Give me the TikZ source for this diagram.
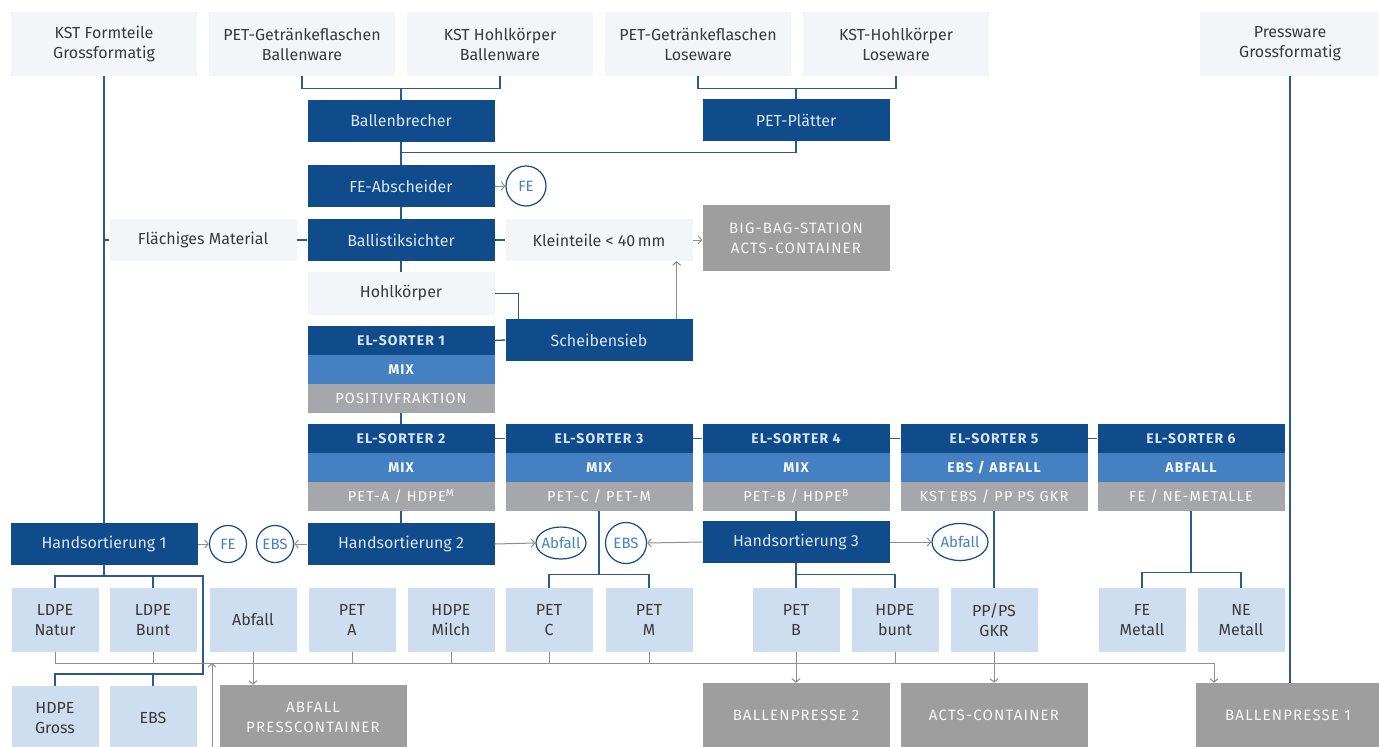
\documentclass[tikz,border=0pt]{standalone}
\usepackage{xcolor}
\usepackage{fontspec}
\usepackage{tikz}
\usetikzlibrary{arrows.meta,shapes.geometric}
\setmainfont{Fira Sans}
\newfontfamily\versal[LetterSpace=8.0]{Fira Sans}

\definecolor{dunkelblau}{HTML}{104C8B}
\definecolor{mittelblau}{HTML}{4581C2}
\definecolor{bandgrau}{HTML}{A6A7AA}
\definecolor{kastengrau}{HTML}{9E9E9E}
\definecolor{hellblau}{HTML}{CFDDF1}
\definecolor{fastweiss}{HTML}{F3F5F9}
\definecolor{schrift}{HTML}{383A3D}
\definecolor{hellschrift}{HTML}{D6E6F6}
\definecolor{pfeilgrau}{HTML}{8E8E8E}
\definecolor{linieblau}{HTML}{2A5A92}

\begin{document}
\begin{tikzpicture}[x=1pt,y=1pt,yscale=-1,xscale=1,
  txt/.style={font=\fontsize{16}{20}\selectfont, align=center, inner sep=0pt},
  quelle/.style={txt, fill=fastweiss, text=schrift, minimum width=186pt, minimum height=64pt},
  anlage/.style={txt, fill=dunkelblau, text=hellschrift, minimum width=187pt, minimum height=42pt},
  zwischen/.style={txt, fill=fastweiss, text=schrift, minimum width=187pt, minimum height=42pt},
  sorte/.style={txt, fill=hellblau, text=schrift, minimum width=87pt, minimum height=64pt},
  ziel/.style={txt, font=\versal\fontsize{15}{20}\selectfont, fill=kastengrau, text=white!92!kastengrau, minimum width=187pt, minimum height=64pt},
  kopf/.style={txt, font=\versal\bfseries\fontsize{14}{17}\selectfont, fill=dunkelblau, text=hellschrift, minimum width=187pt, minimum height=29pt},
  mitte/.style={kopf, fill=mittelblau, text=white!95!mittelblau},
  fuss/.style={kopf, font=\versal\fontsize{14.5}{17}\selectfont, fill=bandgrau, text=white},
  kreis/.style={txt, circle, draw=dunkelblau, line width=1.2pt, minimum size=38pt, text=mittelblau, font=\fontsize{15}{18}\selectfont},
  oval/.style={kreis, ellipse, minimum width=50pt, minimum height=32pt, inner sep=-4pt},
  fluss/.style={draw=linieblau, line width=1.4pt},
  pfeil/.style={draw=pfeilgrau, line width=1pt, -{Straight Barb[length=3.5pt,width=8pt]}},
  sammel/.style={draw=pfeilgrau, line width=1pt},
]
\useasboundingbox (0,0) rectangle (1379,747);
%Quellen
\node (kstform) [quelle] at (104,44) {KST Formteile\\Grossformatig};
\node (petball) [quelle] at (302,44) {PET-Getränkeflaschen\\Ballenware};
\node (kstball) [quelle] at (500,44) {KST Hohlkörper\\Ballenware};
\node (petlose) [quelle] at (698,44) {PET-Getränkeflaschen\\Loseware};
\node (kstlose) [quelle] at (896,44) {KST-Hohlkörper\\Loseware};
\node (pressw) [quelle, minimum width=180pt] at (1290,44) {Pressware\\Grossformatig};
%Anlagen
\node (ballenbr) [anlage] at (401,121) {Ballenbrecher};
\node (plaetter) [anlage] at (796,120) {PET-Plätter};
\node (feab) [anlage] at (401,186) {FE-Abscheider};
\node (fe1) [kreis, minimum size=40pt] at (526,186) {FE};
\node (ballist) [anlage] at (401,240) {Ballistiksichter};
\node (flaech) [zwischen] at (203,240) {Flächiges Material};
\node (kleinteile) [zwischen] at (599,240) {Kleinteile < 40\,mm};
\node (bigbag) [ziel, minimum height=66pt] at (796,238) {BIG-BAG-STATION\\ACTS-CONTAINER};
\node (hohl) [zwischen, minimum height=43pt] at (401,293.5) {Hohlkörper};
\node (sieb) [anlage] at (599,340) {Scheibensieb};
%EL-Sorter
\node (es1k) [kopf] at (401,340.5) {EL-SORTER 1};
\node (es1m) [mitte] at (401,369.5) {MIX};
\node (es1f) [fuss] at (401,398.5) {POSITIVFRAKTION};
\node (es2k) [kopf] at (401,438.5) {EL-SORTER 2};
\node (es2m) [mitte] at (401,467.5) {MIX};
\node (es2f) [fuss] at (401,496.5) {PET-A / HDPE\textsuperscript{M}};
\node (es3k) [kopf] at (599,438.5) {EL-SORTER 3};
\node (es3m) [mitte] at (599,467.5) {MIX};
\node (es3f) [fuss] at (599,496.5) {PET-C / PET-M};
\node (es4k) [kopf] at (796,438.5) {EL-SORTER 4};
\node (es4m) [mitte] at (796,467.5) {MIX};
\node (es4f) [fuss] at (796,496.5) {PET-B / HDPE\textsuperscript{B}};
\node (es5k) [kopf] at (994,438.5) {EL-SORTER 5};
\node (es5m) [mitte] at (994,467.5) {EBS / ABFALL};
\node (es5f) [fuss] at (994,496.5) {KST EBS / PP PS GKR};
\node (es6k) [kopf] at (1191,438.5) {EL-SORTER 6};
\node (es6m) [mitte] at (1191,467.5) {ABFALL};
\node (es6f) [fuss] at (1191,496.5) {FE / NE-METALLE};
%Handsortierung
\node (hand1) [anlage] at (104,544) {Handsortierung 1};
\node (hand2) [anlage] at (401,544) {Handsortierung 2};
\node (hand3) [anlage] at (796,542) {Handsortierung 3};
\node (fe2) [kreis, minimum size=37pt] at (228,544) {FE};
\node (ebs2) [kreis, minimum size=37pt] at (275,544) {EBS};
\node (abf2) [oval] at (561,543) {Abfall};
\node (ebs3) [kreis, minimum size=41pt] at (626,543) {EBS};
\node (abf3) [oval, minimum width=56pt, minimum height=37pt] at (960,542) {Abfall};
%Sorten
\node (ldpen) [sorte] at (55,620) {LDPE\\Natur};
\node (ldpeb) [sorte] at (153,620) {LDPE\\Bunt};
\node (abfall) [sorte] at (253,620) {Abfall};
\node (peta) [sorte] at (352,620) {PET\\A};
\node (hdpem) [sorte] at (451,620) {HDPE\\Milch};
\node (petc) [sorte] at (549,620) {PET\\C};
\node (petm) [sorte] at (649,620) {PET\\M};
\node (petbb) [sorte] at (796,620) {PET\\B};
\node (hdpebunt) [sorte] at (895,620) {HDPE\\bunt};
\node (ppps) [sorte] at (994,620) {PP/PS\\GKR};
\node (femet) [sorte] at (1142,620) {FE\\Metall};
\node (nemet) [sorte] at (1241,620) {NE\\Metall};
\node (hdpeg) [sorte] at (55,718) {HDPE\\Gross};
\node (ebs) [sorte] at (153,718) {EBS};
%Ziele
\node (pressc) [ziel] at (313,717) {ABFALL\\PRESSCONTAINER};
\node (bp2) [ziel] at (796,715) {BALLENPRESSE 2};
\node (acts) [ziel] at (994,715) {ACTS-CONTAINER};
\node (bp1) [ziel, minimum width=184pt] at (1288,715) {BALLENPRESSE 1};
%Linien oben
\draw[fluss] (petball.south) -- ++(0,12) -| (kstball.south);
\draw[fluss] (ballenbr.north) -- ++(0,-12);
\draw[fluss] (petlose.south) -- ++(0,12) -| (kstlose.south);
\draw[fluss] (plaetter.north) -- ++(0,-11);
\draw[fluss] (plaetter.south) -- ++(0,11) -| (ballenbr.south);
\draw[fluss] (ballenbr.south) -- (feab.north);
\draw[pfeil] (feab.east) -- (fe1.west);
\draw[fluss] (feab.south) -- (ballist.north);
\draw[fluss] (flaech.east) -- (ballist.west);
\draw[fluss] (kstform.south) -- (hand1.north);
\draw[fluss] (flaech.west) -- (flaech.west -| kstform.south);
\draw[fluss] (ballist.east) -- (kleinteile.west);
\draw[pfeil] (kleinteile.east) -- (kleinteile.east -| bigbag.west);
\coordinate (siebaus) at ([xshift=-16pt]sieb.north east);
\draw[pfeil] (siebaus) -- (siebaus |- kleinteile.south);
\draw[fluss] (ballist.south) -- (hohl.north);
\coordinate (siebein) at ([xshift=13pt]sieb.north west);
\draw[fluss] (hohl.east) -| (siebein);
\draw[fluss] (sieb.west) -- (es1k.east);
%Sorter
\draw[fluss] (es1f.south) -- (es2k.north);
\draw[fluss] (es2k.east) -- (es3k.west);
\draw[fluss] (es3k.east) -- (es4k.west);
\draw[fluss] (es4k.east) -- (es5k.west);
\draw[fluss] (es5k.east) -- (es6k.west);
\draw[fluss] (es2f.south) -- (hand2.north);
\draw[pfeil] (hand1.east) -- (fe2.west);
\draw[pfeil] (hand2.west) -- (ebs2.east);
\draw[pfeil] (hand2.east) -- (abf2.west);
\draw[fluss] (es3f.south) -- ++(0,63) coordinate (teil3);
\draw[fluss] (petc.north) |- (teil3) -| (petm.north);
\draw[fluss] (es4f.south) -- (hand3.north);
\draw[pfeil] (hand3.west) -- (ebs3.east);
\draw[pfeil] (hand3.east) -- (abf3.west);
\draw[fluss] (hand3.south) -- (petbb.north);
\draw[fluss] (hand3.south) ++(0,11) -| (hdpebunt.north);
\draw[fluss] (es5f.south) -- (ppps.north);
\draw[fluss] (es6f.south) -- ++(0,61) coordinate (teil6);
\draw[fluss] (femet.north) |- (teil6) -| (nemet.north);
\draw[fluss] (pressw.south) -- (pressw.south |- bp1.north);
%Handsortierung 1
\coordinate (h1rechts) at (203,576);
\coordinate (h1unten) at (203,674);
\draw[fluss] (hand1.south) -- (hand1.south |- h1rechts);
\draw[fluss] (ldpen.north) |- (h1rechts) -- (h1unten) -| (hdpeg.north);
\draw[fluss] (ldpeb.north) -- (ldpeb.north |- h1rechts);
\draw[fluss] (ebs.north) -- (ebs.north |- h1unten);
%Sammellinie
\coordinate (sammelende) at (1214,663);
\coordinate (zulauf) at (212,747);
\draw[pfeil] (ldpen.south) |- (sammelende) -- (sammelende |- bp1.north);
\draw[sammel] (ldpeb.south) -- (ldpeb.south |- sammelende);
\draw[sammel] (peta.south) -- (peta.south |- sammelende);
\draw[sammel] (hdpem.south) -- (hdpem.south |- sammelende);
\draw[sammel] (petc.south) -- (petc.south |- sammelende);
\draw[sammel] (petm.south) -- (petm.south |- sammelende);
\draw[sammel] (hdpebunt.south) -- (hdpebunt.south |- sammelende);
\draw[pfeil] (abfall.south) -- (abfall.south |- pressc.north);
\draw[pfeil] (petbb.south) -- (petbb.south |- bp2.north);
\draw[pfeil] (ppps.south) -- (ppps.south |- acts.north);
\draw[pfeil] (zulauf) -- (zulauf |- sammelende);
\end{tikzpicture}
\end{document}
